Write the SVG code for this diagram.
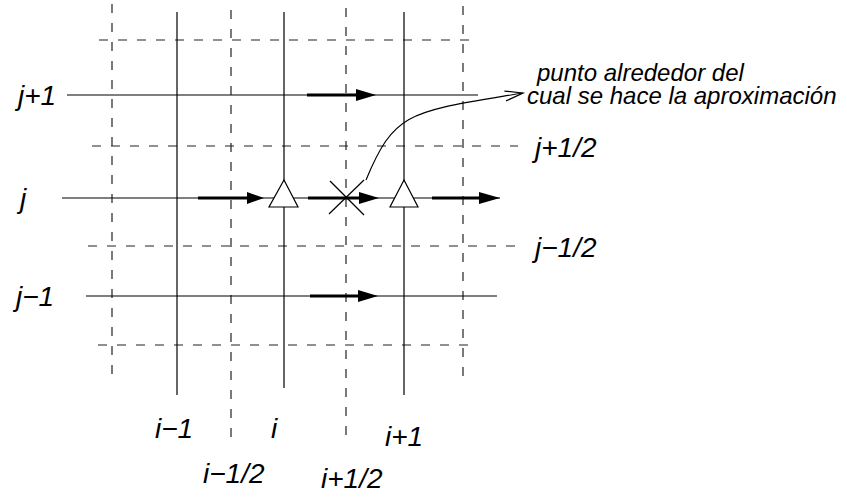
<svg xmlns="http://www.w3.org/2000/svg" width="847" height="498" viewBox="0 0 847 498">
<style>
.solid{stroke:#000;stroke-width:1.2;fill:none}
.dash{stroke:#222;stroke-width:1.2;fill:none;stroke-dasharray:9 10}
.flux{stroke:#000;stroke-width:3;fill:none}
.head{fill:#000;stroke:none}
.tri{fill:#fff;stroke:#000;stroke-width:1.2}
.lbl{font-family:"Liberation Sans",Arial,sans-serif;font-style:italic;font-size:28px;fill:#000}
.note{font-family:"Liberation Sans",Arial,sans-serif;font-style:italic;font-size:24px;fill:#000}
</style>
<defs>
<marker id="open" markerWidth="20" markerHeight="12" refX="18" refY="6" orient="auto" markerUnits="userSpaceOnUse">
<path d="M0,1 L18,6 L0,11" fill="none" stroke="#000" stroke-width="1.2"/>
</marker>
</defs>
<rect width="847" height="498" fill="#fff"/>
<g id="grid-dashed">
<line class="dash" x1="112" y1="4" x2="112" y2="380"/>
<line class="dash" x1="231" y1="10" x2="231" y2="442"/>
<line class="dash" x1="346" y1="8" x2="346" y2="440"/>
<line class="dash" x1="463" y1="6" x2="463" y2="382"/>
<line class="dash" x1="99" y1="40" x2="476" y2="40"/>
<line class="dash" x1="92" y1="146" x2="518" y2="146"/>
<line class="dash" x1="88" y1="246" x2="518" y2="246"/>
<line class="dash" x1="98" y1="345" x2="476" y2="345"/>
</g>
<g id="grid-solid">
<line class="solid" x1="177" y1="12" x2="177" y2="395"/>
<line class="solid" x1="284" y1="12" x2="284" y2="388"/>
<line class="solid" x1="404" y1="12" x2="404" y2="395"/>
<line class="solid" x1="67" y1="95" x2="478" y2="95"/>
<line class="solid" x1="62" y1="198" x2="500" y2="198"/>
<line class="solid" x1="86" y1="296" x2="497" y2="296"/>
</g>
<g id="connectors">
<line class="flux" x1="307" y1="95" x2="358" y2="95"/>
<path class="head" d="M356,89 L376,95 L356,101 Z"/>
<line class="flux" x1="198" y1="198" x2="249" y2="198"/>
<path class="head" d="M247,192 L264,198 L247,204 Z"/>
<line class="flux" x1="308" y1="198" x2="361" y2="198"/>
<path class="head" d="M359,192 L379,198 L359,204 Z"/>
<line class="flux" x1="432" y1="198" x2="481" y2="198"/>
<path class="head" d="M479,192 L500,198 L479,204 Z"/>
<line class="flux" x1="310" y1="296" x2="360" y2="296"/>
<path class="head" d="M358,290 L378,296 L358,302 Z"/>
<path class="solid" d="M366,180 C395,110 410,112 523,93" marker-end="url(#open)"/>
</g>
<g id="node-i">
<path class="tri" d="M284,180 L298,207 L269,207 Z"/>
</g>
<g id="node-i1">
<path class="tri" d="M404,180 L418,207 L390,207 Z"/>
</g>
<g id="node-x">
<line class="solid" x1="330" y1="181" x2="364" y2="215"/>
<line class="solid" x1="364" y1="180" x2="329" y2="214"/>
</g>
<g id="labels">
<text class="lbl" x="18" y="105">j+1</text>
<text class="lbl" x="20" y="208">j</text>
<text class="lbl" x="16" y="306">j−1</text>
<text class="lbl" x="535" y="157">j+1/2</text>
<text class="lbl" x="535" y="257">j−1/2</text>
<text class="lbl" x="155" y="438">i−1</text>
<text class="lbl" x="271" y="438">i</text>
<text class="lbl" x="385" y="446">i+1</text>
<text class="lbl" x="203" y="483">i−1/2</text>
<text class="lbl" x="321" y="488">i+1/2</text>
<text class="note"><tspan x="537" y="81">punto alrededor del</tspan><tspan x="527" y="104">cual se hace la aproximación</tspan></text>
</g>
</svg>
